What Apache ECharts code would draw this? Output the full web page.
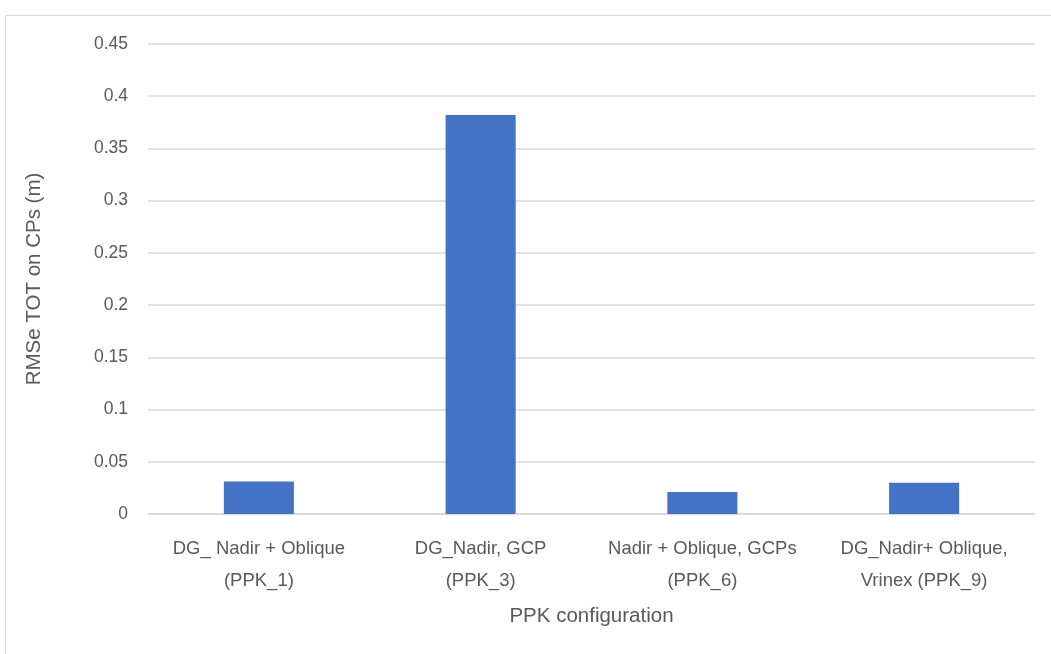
<!DOCTYPE html>
<html><head><meta charset="utf-8">
<script src="https://cdn.jsdelivr.net/npm/echarts@6/dist/echarts.min.js"></script>
<style>html,body{margin:0;padding:0;background:#fff}#c{width:1051px;height:654px}</style>
</head><body><div id="c"></div>
<script>
var categories = ["DG_ Nadir + Oblique\n(PPK_1)", "DG_Nadir, GCP\n(PPK_3)", "Nadir + Oblique, GCPs\n(PPK_6)", "DG_Nadir+ Oblique,\nVrinex (PPK_9)"];
var rmseValues = [0.031, 0.382, 0.021, 0.030];
var yTicks = {min: 0, max: 0.45, interval: 0.05};
var yAxisName = "RMSe TOT on CPs (m)";
var xAxisName = "PPK configuration";

var chart = echarts.init(document.getElementById('c'));
var font = "'Liberation Sans', 'Open Sans', sans-serif";
chart.setOption({
  animation: false,
  textStyle: {fontFamily: font},
  graphic: [{type: 'rect', shape: {x: 5.5, y: 15.5, width: 1100, height: 700}, style: {fill: 'none', stroke: '#d9d9d9', lineWidth: 1}, silent: true}],
  grid: {left: 148, right: 16, top: 44, bottom: 140, containLabel: false},
  xAxis: {
    type: 'category', data: categories,
    name: xAxisName, nameLocation: 'middle', nameGap: 92,
    nameTextStyle: {fontSize: 20.5, color: '#595959', fontFamily: font},
    axisLine: {show: true, lineStyle: {color: '#d9d9d9', width: 1.5}},
    axisTick: {show: false},
    axisLabel: {fontSize: 18.5, color: '#595959', lineHeight: 32, margin: 19, interval: 0, fontFamily: font}
  },
  yAxis: {
    type: 'value', min: yTicks.min, max: yTicks.max, interval: yTicks.interval,
    name: yAxisName, nameLocation: 'middle', nameGap: 103, nameRotate: 90,
    nameTextStyle: {fontSize: 20.5, color: '#595959', fontFamily: font},
    axisLine: {show: false}, axisTick: {show: false},
    axisLabel: {fontSize: 17.5, color: '#595959', margin: 20, fontFamily: font},
    splitLine: {lineStyle: {color: '#d9d9d9', width: 1.5}}
  },
  series: [{type: 'bar', data: rmseValues, barWidth: '31.6%', itemStyle: {color: '#4472c4'}}]
});
</script></body></html>
